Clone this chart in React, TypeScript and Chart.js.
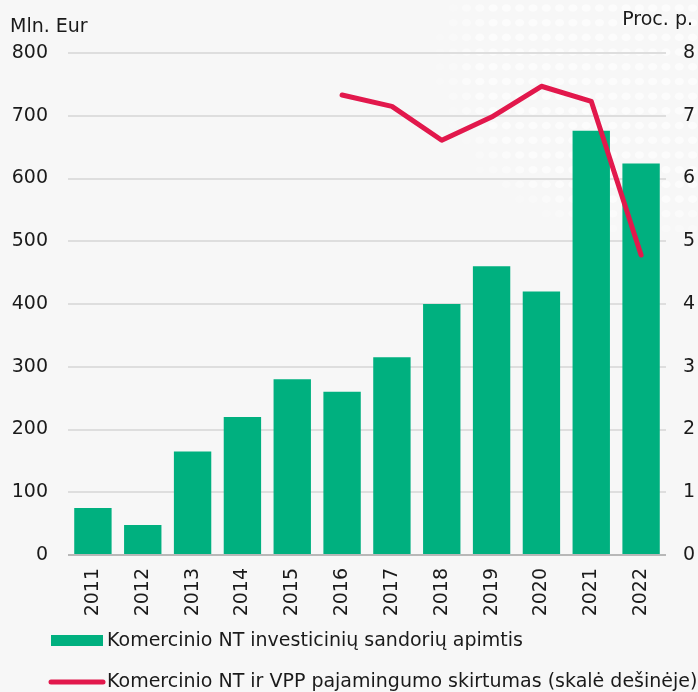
import React, { useEffect, useRef } from "react";
import { Chart, registerables } from "chart.js";

Chart.register(...registerables);

// ---- data ----
const years = ["2011", "2012", "2013", "2014", "2015", "2016", "2017", "2018", "2019", "2020", "2021", "2022"];
const volumeMlnEur = [75, 48, 165, 220, 280, 260, 315, 400, 460, 420, 676, 624];
const yieldGapPp: (number | null)[] = [null, null, null, null, null, 7.33, 7.15, 6.61, 6.98, 7.47, 7.23, 4.78];
const leftAxisMax = 800;
const leftAxisStep = 100;
const rightAxisMax = 8;
const rightAxisStep = 1;
const barLabel = "Komercinio NT investicinių sandorių apimtis";
const lineLabel = "Komercinio NT ir VPP pajamingumo skirtumas (skalė dešinėje)";
const leftTitle = "Mln. Eur";
const rightTitle = "Proc. p.";

// ---- style ----
const FONT = "'DejaVu Sans', Verdana, sans-serif";
const FONT_SIZE = 19;
const TEXT = "#1a1a1a";
const GREEN = "#00b07f";
const RED = "#e2184c";
const BG = "#f7f7f7";

const backgroundPlugin = {
  id: "bgDots",
  beforeDraw(chart: any) {
    const { ctx, width, height } = chart;
    ctx.save();
    ctx.fillStyle = BG;
    ctx.fillRect(0, 0, width, height);
    // decorative dot pattern (upper right)
    const cx = 645, cy = 60, rx = 215, ry = 190;
    for (let r = 0; r < 20; r++) {
      const y = 8 + r * 14.7;
      for (let c = 0; c < 24; c++) {
        const x = 400 + c * 13.3;
        const d = ((x - cx) / rx) ** 2 + ((y - cy) / ry) ** 2;
        if (d > 1) continue;
        const a = Math.min(1, (1 - d) * 2.5);
        ctx.fillStyle = `rgba(255,255,255,${(0.6 * a).toFixed(3)})`;
        ctx.beginPath();
        ctx.ellipse(x, y, 4.6, 3.8, 0, 0, Math.PI * 2);
        ctx.fill();
      }
    }
    ctx.restore();
  },
};

const annotationsPlugin = {
  id: "titlesLegend",
  afterDraw(chart: any) {
    const { ctx } = chart;
    const ds = chart.data.datasets;
    const bar = ds.find((d: any) => d.type === "bar");
    const line = ds.find((d: any) => d.type === "line");
    ctx.save();
    ctx.font = `${FONT_SIZE}px ${FONT}`;
    ctx.fillStyle = TEXT;
    ctx.textBaseline = "alphabetic";
    ctx.textAlign = "left";
    ctx.fillText(leftTitle, 10, 32);
    ctx.textAlign = "right";
    ctx.fillText(rightTitle, 693, 25);

    // legend
    ctx.textAlign = "left";
    ctx.textBaseline = "middle";
    ctx.fillStyle = bar.backgroundColor;
    ctx.fillRect(51, 635, 52, 11);
    ctx.fillStyle = TEXT;
    ctx.fillText(bar.label, 107, 641);

    ctx.strokeStyle = line.borderColor;
    ctx.lineWidth = 5;
    ctx.lineCap = "round";
    ctx.beginPath();
    ctx.moveTo(51, 682);
    ctx.lineTo(103, 682);
    ctx.stroke();
    ctx.fillText(line.label, 107, 682);
    ctx.restore();
  },
};

export default function App() {
  const ref = useRef<HTMLCanvasElement | null>(null);

  useEffect(() => {
    if (!ref.current) return;
    const tickFont = { family: FONT, size: FONT_SIZE };
    const chart = new Chart(ref.current, {
      type: "bar",
      data: {
        labels: years,
        datasets: [
          {
            type: "line",
            label: lineLabel,
            data: yieldGapPp,
            yAxisID: "y1",
            borderColor: RED,
            backgroundColor: RED,
            borderWidth: 5,
            pointRadius: 0,
            pointHoverRadius: 0,
            tension: 0,
            borderCapStyle: "round",
            borderJoinStyle: "round",
            order: 0,
          } as any,
          {
            type: "bar",
            label: barLabel,
            data: volumeMlnEur,
            yAxisID: "y",
            backgroundColor: GREEN,
            borderWidth: 0,
            barPercentage: 0.75,
            categoryPercentage: 1,
            order: 1,
          } as any,
        ],
      },
      options: {
        animation: false,
        responsive: true,
        maintainAspectRatio: false,
        layout: { padding: { top: 53, bottom: 75, left: 0, right: 0 } },
        plugins: {
          legend: { display: false },
          tooltip: { enabled: false },
        },
        scales: {
          x: {
            grid: { display: false, drawTicks: false },
            border: { display: false },
            ticks: {
              minRotation: 90,
              maxRotation: 90,
              padding: 13,
              font: tickFont,
              color: TEXT,
            },
            afterFit: (s: any) => {
              s.height = 62;
            },
          },
          y: {
            position: "left",
            min: 0,
            max: leftAxisMax,
            ticks: { stepSize: leftAxisStep, padding: 20, font: tickFont, color: TEXT },
            grid: {
              drawTicks: false,
              lineWidth: 2,
              color: (c: any) => (c.tick && c.tick.value === 0 ? "#b8b8b8" : "#dedede"),
            },
            border: { display: false },
            afterFit: (s: any) => {
              s.width = 68;
            },
          },
          y1: {
            position: "right",
            min: 0,
            max: rightAxisMax,
            ticks: { stepSize: rightAxisStep, padding: 17, font: tickFont, color: TEXT },
            grid: { display: false, drawTicks: false },
            border: { display: false },
            afterFit: (s: any) => {
              s.width = 32;
            },
          },
        },
      },
      plugins: [backgroundPlugin, annotationsPlugin],
    } as any);
    return () => chart.destroy();
  }, []);

  return (
    <div style={{ position: "absolute", left: 0, top: 0, width: 698, height: 692, background: BG }}>
      <canvas ref={ref} />
    </div>
  );
}
